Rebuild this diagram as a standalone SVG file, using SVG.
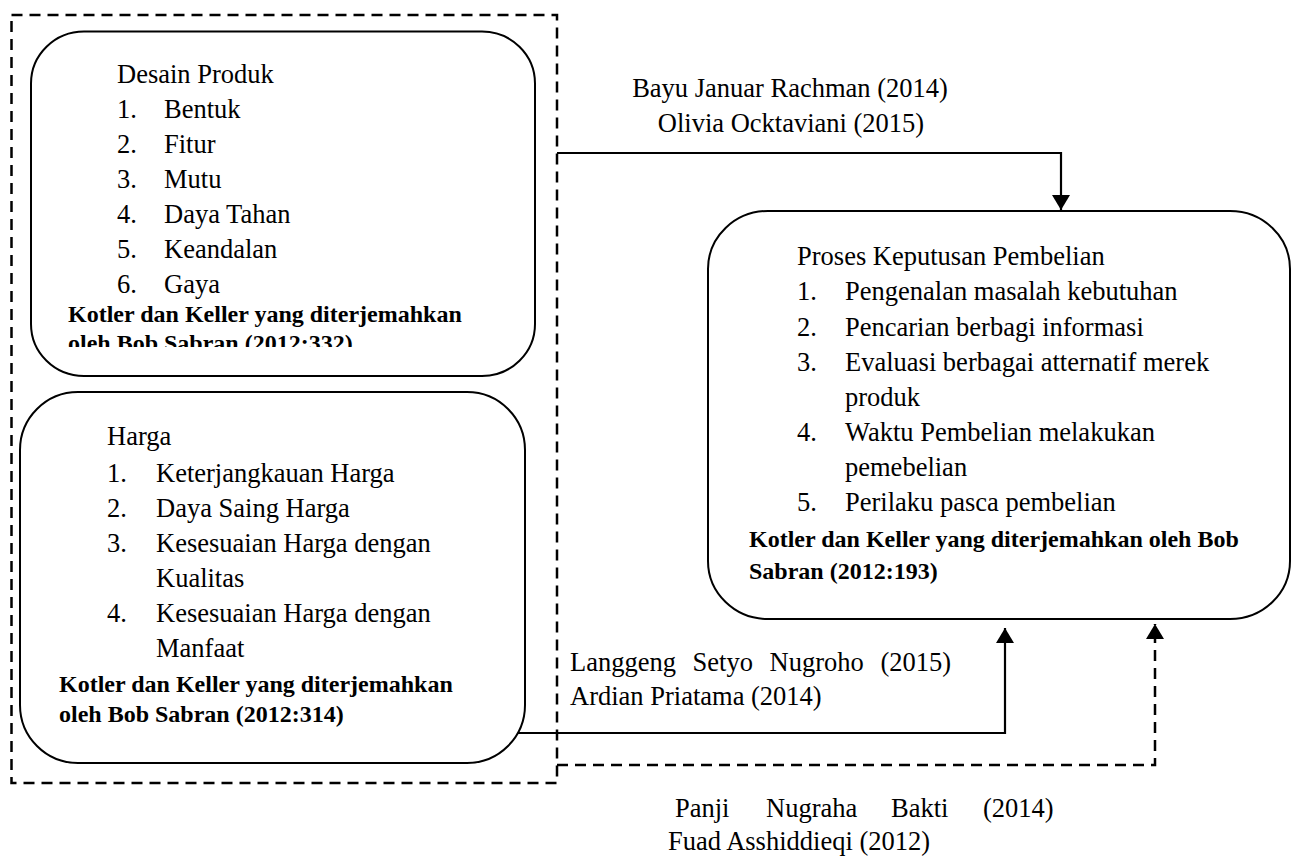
<svg xmlns="http://www.w3.org/2000/svg" width="1291" height="858" viewBox="0 0 1291 858">
<style>
  .box { fill: none; stroke: #000; stroke-width: 2; }
  .dash { fill: none; stroke: #000; stroke-width: 2.5; stroke-dasharray: 11 7; }
  .line { fill: none; stroke: #000; stroke-width: 2.2; }
  text { font-family: "Liberation Serif", "Times New Roman", serif; fill: #000; }
  .t { font-size: 26.5px; }
  .b { font-size: 24px; font-weight: bold; }
</style>
<defs>
  <marker id="arr" markerUnits="userSpaceOnUse" markerWidth="20" markerHeight="20" refX="15" refY="9" orient="auto">
    <path d="M0,0 L15,9 L0,18 Z" fill="#000"/>
  </marker>
  <clipPath id="clip1"><rect x="0" y="0" width="600" height="347"/></clipPath>
</defs>
<rect fill="#fff" x="0" y="0" width="1291" height="858"/>

<g id="group-dashed">
  <rect class="dash" x="11.5" y="15" width="545.5" height="768"/>
</g>

<g id="node-desain">
  <rect class="box" x="31" y="31.5" width="504" height="344.5" rx="53" ry="52"/>
  <text class="t" x="117" y="83">Desain Produk</text>
  <text class="t" x="117" y="118">1.</text><text class="t" x="164" y="118">Bentuk</text>
  <text class="t" x="117" y="153">2.</text><text class="t" x="164" y="153">Fitur</text>
  <text class="t" x="117" y="188">3.</text><text class="t" x="164" y="188">Mutu</text>
  <text class="t" x="117" y="223">4.</text><text class="t" x="164" y="223">Daya Tahan</text>
  <text class="t" x="117" y="258">5.</text><text class="t" x="164" y="258">Keandalan</text>
  <text class="t" x="117" y="293">6.</text><text class="t" x="164" y="293">Gaya</text>
  <text class="b" x="68" y="322">Kotler dan Keller yang diterjemahkan</text>
  <text class="b" x="68" y="351" clip-path="url(#clip1)">oleh Bob Sabran (2012:332)</text>
</g>

<g id="node-harga">
  <rect class="box" x="20" y="392" width="505" height="371" rx="58" ry="58"/>
  <text class="t" x="107" y="445">Harga</text>
  <text class="t" x="107" y="482">1.</text><text class="t" x="156" y="482">Keterjangkauan Harga</text>
  <text class="t" x="107" y="517">2.</text><text class="t" x="156" y="517">Daya Saing Harga</text>
  <text class="t" x="107" y="552">3.</text><text class="t" x="156" y="552">Kesesuaian Harga dengan</text>
  <text class="t" x="156" y="587">Kualitas</text>
  <text class="t" x="107" y="622">4.</text><text class="t" x="156" y="622">Kesesuaian Harga dengan</text>
  <text class="t" x="156" y="657">Manfaat</text>
  <text class="b" x="59" y="692">Kotler dan Keller yang diterjemahkan</text>
  <text class="b" x="59" y="722">oleh Bob Sabran (2012:314)</text>
</g>

<g id="node-proses">
  <rect class="box" x="708" y="211" width="582" height="408" rx="60" ry="58"/>
  <text class="t" x="797" y="265">Proses Keputusan Pembelian</text>
  <text class="t" x="797" y="300">1.</text><text class="t" x="845" y="300">Pengenalan masalah kebutuhan</text>
  <text class="t" x="797" y="336">2.</text><text class="t" x="845" y="336">Pencarian berbagi informasi</text>
  <text class="t" x="797" y="371">3.</text><text class="t" x="845" y="371">Evaluasi berbagai atternatif merek</text>
  <text class="t" x="845" y="406">produk</text>
  <text class="t" x="797" y="441">4.</text><text class="t" x="845" y="441">Waktu Pembelian melakukan</text>
  <text class="t" x="845" y="476">pemebelian</text>
  <text class="t" x="797" y="511">5.</text><text class="t" x="845" y="511">Perilaku pasca pembelian</text>
  <text class="b" x="749" y="547">Kotler dan Keller yang diterjemahkan oleh Bob</text>
  <text class="b" x="749" y="579">Sabran (2012:193)</text>
</g>

<g id="connectors">
  <path class="line" d="M557,153 H1061 V210" marker-end="url(#arr)"/>
  <path class="line" d="M518,733 H1005 V628" marker-end="url(#arr)"/>
  <path class="dash" d="M557,765 H1155 V624" marker-end="url(#arr)"/>
</g>

<g id="labels">
  <text class="t" x="790" y="97" text-anchor="middle">Bayu Januar Rachman (2014)</text>
  <text class="t" x="791" y="132" text-anchor="middle">Olivia Ocktaviani (2015)</text>
  <text class="t" x="570" y="671" word-spacing="10">Langgeng Setyo Nugroho (2015)</text>
  <text class="t" x="570" y="705">Ardian Priatama (2014)</text>
  <text class="t" y="817"><tspan x="675">Panji</tspan><tspan x="766">Nugraha</tspan><tspan x="891">Bakti</tspan><tspan x="983">(2014)</tspan></text>
  <text class="t" x="668" y="850">Fuad Asshiddieqi (2012)</text>
</g>
</svg>
